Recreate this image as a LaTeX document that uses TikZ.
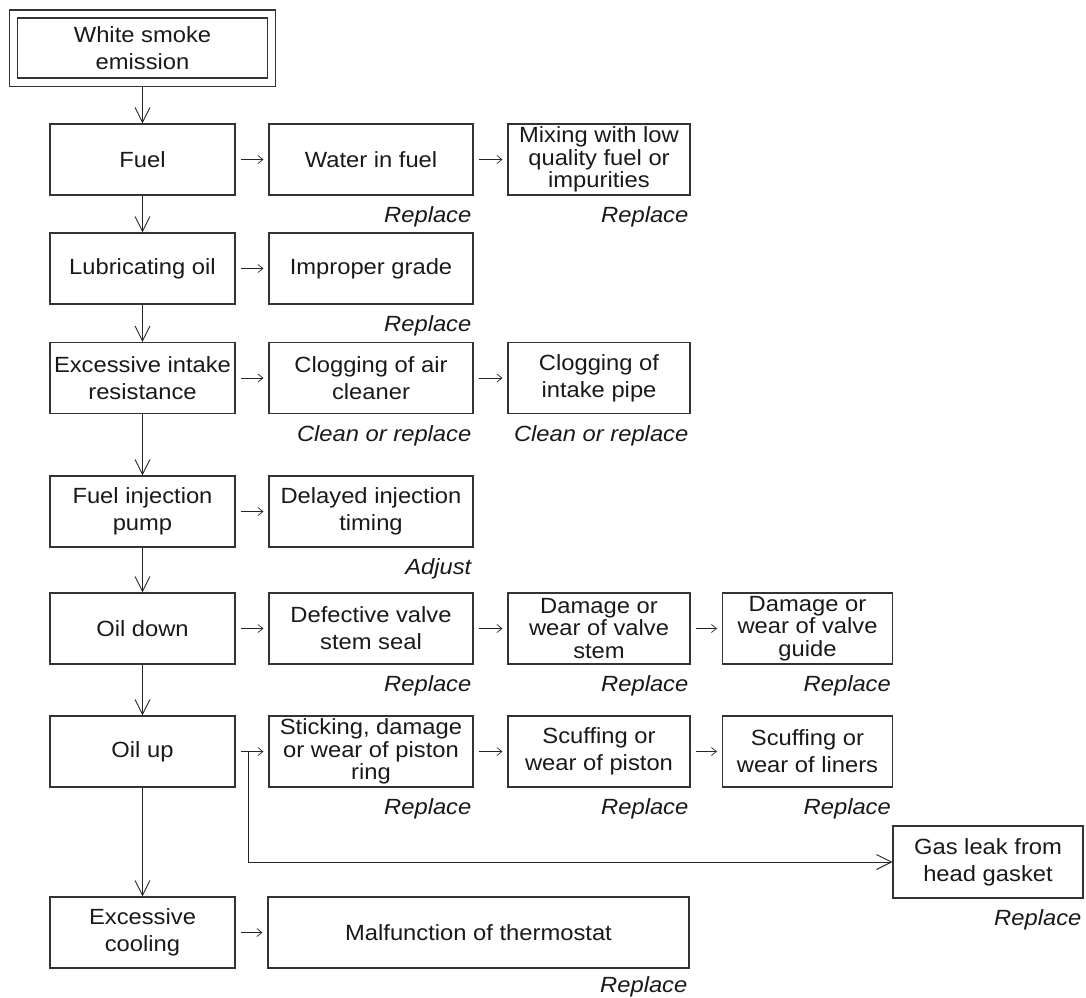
\documentclass[tikz,border=0pt]{standalone}
\usepackage{fontspec}
\setmainfont{Liberation Sans}[FakeStretch=1.08]
\usetikzlibrary{arrows.meta, positioning, fit}

\newcommand{\boxfont}{\fontsize{22pt}{27pt}\selectfont}
\newcommand{\tightfont}{\fontsize{22pt}{22.5pt}\selectfont}

\begin{document}
\begin{tikzpicture}[x=1pt, y=-1pt,
        box/.style={draw=black!80, line width=1.1pt, align=center, font=\boxfont,
                    text=black!90, inner sep=1pt, minimum height=71pt},
        cause/.style={box, minimum width=185pt},
        tight/.style={font=\tightfont},
        frame/.style={draw=black!80, line width=1.1pt, inner sep=7.5pt},
        fix/.style={font=\boxfont\itshape, text=black!90, anchor=north east, inner sep=0pt},
        down/.style={-{Straight Barb[length=15pt, width=15pt]}, line width=0.9pt, draw=black!85},
        next/.style={-{Straight Barb[length=5pt, width=8pt]}, line width=0.7pt, draw=black!85},
    ]
    \useasboundingbox (0,0) rectangle (1086,997);

    % ---- Symptom ----
    \node[box, minimum width=250pt, minimum height=60pt] (smoke) at (142.5, 48)
        {White smoke\\emission};
    \node[frame, fit=(smoke)] (smokeframe) {};

    % ---- Causes, left column ----
    \node[cause] (fuel)    at (142.5, 159.5) {Fuel};
    \node[cause] (lube)    at (142.5, 268.5) {Lubricating oil};
    \node[cause] (intake)  at (142.5, 378)   {Excessive intake\\resistance};
    \node[cause] (pump)    at (142.5, 511.5) {Fuel injection\\pump};
    \node[cause] (oildown) at (142.5, 628.5) {Oil down};
    \node[cause] (oilup)   at (142.5, 751.5) {Oil up};
    \node[cause] (cooling) at (142.5, 932.5) {Excessive\\cooling};

    % ---- Second column ----
    \node[box, minimum width=204pt] (water)      at (371, 159.5) {Water in fuel};
    \node[box, minimum width=204pt] (grade)      at (371, 268.5) {Improper grade};
    \node[box, minimum width=204pt] (aircleaner) at (371, 378)   {Clogging of air\\cleaner};
    \node[box, minimum width=204pt] (timing)     at (371, 511.5) {Delayed injection\\timing};
    \node[box, minimum width=204pt] (stemseal)   at (371, 628.5) {Defective valve\\stem seal};
    \node[box, tight, minimum width=204pt] (ring) at (371, 751.5)
        {Sticking, damage\\or wear of piston\\ring};

    % ---- Third column ----
    \node[box, tight, minimum width=182pt] (mixing) at (599, 159.5)
        {Mixing with low\\quality fuel or\\impurities};
    \node[box, minimum width=182pt] (intakepipe) at (599, 378) {Clogging of\\intake pipe};
    \node[box, tight, minimum width=182pt] (valvestem) at (599, 628.5)
        {Damage or\\wear of valve\\stem};
    \node[box, minimum width=182pt] (piston) at (599, 751.5) {Scuffing or\\wear of piston};

    % ---- Fourth column ----
    \node[box, tight, minimum width=170pt] (valveguide) at (807.5, 628.5)
        {Damage or\\wear of valve\\guide};
    \node[box, minimum width=170pt] (liners) at (807.5, 751.5) {Scuffing or\\wear of liners};

    % ---- Wide boxes ----
    \node[box, minimum width=190pt, minimum height=72pt] (gasleak) at (988, 862)
        {Gas leak from\\head gasket};
    \node[box, minimum width=421pt] (thermostat) at (478.5, 932.5) {Malfunction of thermostat};

    % ---- Remedies ----
    \foreach \n/\t in {water/Replace, mixing/Replace, grade/Replace,
                       aircleaner/Clean or replace, intakepipe/Clean or replace,
                       timing/Adjust, stemseal/Replace, valvestem/Replace,
                       valveguide/Replace, ring/Replace, piston/Replace,
                       liners/Replace, gasleak/Replace}
        \node[fix] (\n-fix) at ([xshift=-2pt, yshift=-11pt]\n.south east) {\t};
    \node[fix] (thermostat-fix) at ([xshift=-2pt, yshift=-8pt]thermostat.south east) {Replace};

    % ---- Arrows ----
    \draw[down] (smokeframe.south) -- (fuel.north);
    \foreach \a/\b in {fuel/lube, lube/intake, intake/pump, pump/oildown,
                       oildown/oilup, oilup/cooling}
        \draw[down] (\a.south) -- (\b.north);

    \foreach \a/\b in {fuel/water, water/mixing, lube/grade, intake/aircleaner,
                       aircleaner/intakepipe, pump/timing, oildown/stemseal,
                       stemseal/valvestem, valvestem/valveguide, oilup/ring,
                       ring/piston, piston/liners, cooling/thermostat}
        \draw[next] ([xshift=5pt]\a.east) -- ([xshift=-5pt]\b.west);

    \coordinate (branch) at ([xshift=13pt]oilup.east);
    \draw[down] (branch) |- (gasleak.west);

\end{tikzpicture}
\end{document}
